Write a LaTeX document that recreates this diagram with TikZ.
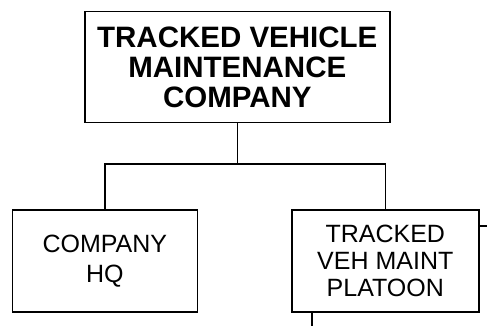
\documentclass[tikz,border=0pt]{standalone}
\usepackage{fontspec}
\setmainfont{Liberation Sans}
\usepackage{tikz}
\usetikzlibrary{positioning}

\begin{document}
\begin{tikzpicture}[
    x=1pt, y=1pt,
    unit/.style={rectangle, draw, line width=1.6pt, align=center, inner sep=0pt},
    hqunit/.style={unit, font=\fontsize{29.5}{30}\selectfont\bfseries},
    subunit/.style={unit, font=\fontsize{25}{27}\selectfont},
    link/.style={line width=1.6pt}
]
    \useasboundingbox (0,0) rectangle (487,-326);

    \node (coy) [hqunit, minimum width=305pt, minimum height=111pt] at (237.3,-67.2) {TRACKED VEHICLE\\MAINTENANCE\\COMPANY};
    \node (hq) [subunit, minimum width=185pt, minimum height=102pt] at (104.8,-261.2) {COMPANY\\[3pt]HQ};
    \node (plt) [subunit, minimum width=187pt, minimum height=102pt] at (385.3,-261.2) {TRACKED\\VEH MAINT\\PLATOON};

    \coordinate (bus) at (0,-164);
    \coordinate (eastend) at (487,-226);
    \coordinate (southend) at (311.7,-326);

    \draw [link] (coy.south) -- (coy.south |- bus);
    \draw [link] (hq.north) |- (coy.south |- bus) -| (plt.north);
    \draw [link] (plt.east |- eastend) -- (eastend);
    \draw [link] (plt.south -| southend) -- (southend);
\end{tikzpicture}
\end{document}
